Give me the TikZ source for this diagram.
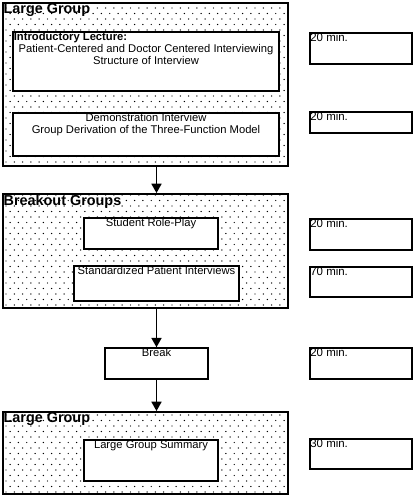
\documentclass[tikz,border=0pt]{standalone}
\usepackage{fontspec}
\setmainfont{Liberation Sans}
\usetikzlibrary{arrows.meta,fit}

\tikzset{
  grpbox/.style={draw,line width=1.4pt,inner sep=0pt},
  actbox/.style={draw,fill=white,line width=1.1pt,inner sep=0pt},
  timebox/.style={draw,line width=1.1pt,inner sep=0pt},
  grptitle/.style={anchor=north west,inner sep=1pt,font=\fontsize{10.8}{12}\selectfont\bfseries},
  acttext/.style={anchor=north,inner sep=1pt,align=center,font=\fontsize{8.4}{8.9}\selectfont},
  timetext/.style={anchor=north west,inner sep=0.6pt,font=\fontsize{8.6}{8.9}\selectfont},
  flow/.style={-{Triangle[length=7pt,width=7.5pt]},line width=1.2pt}
}

\begin{document}
\begin{tikzpicture}[x=0.75pt,y=-0.75pt]
\useasboundingbox (0,0) rectangle (416,496);

% group frames
\node[grpbox,fit={(3,3) (288,166)}] (lg1) {};
\node[grpbox,fit={(3,194) (288,308)}] (bg) {};
\node[grpbox,fit={(3,412) (288,494)}] (lg2) {};

% dotted fill
\begin{scope}
\clip (lg1.south west) rectangle (lg1.north east)
      (bg.south west) rectangle (bg.north east)
      (lg2.south west) rectangle (lg2.north east);
\foreach \r in {0,...,90}
  \foreach \c in {0,...,35}
    \fill ({\c*8.3+mod(\r,2)*4.15+6},{\r*5.5+8}) circle (0.55pt);
\end{scope}

\node[grptitle] at (lg1.north west) {Large Group};
\node[grptitle] at (bg.north west) {Breakout Groups};
\node[grptitle] at (lg2.north west) {Large Group};

% activities
\node[actbox,fit={(13,32) (279,91)},
  label={[timetext,font=\fontsize{8.4}{8.9}\selectfont\bfseries,inner sep=1pt]north west:Introductory Lecture:},
  label={[acttext,yshift=-8.6pt]north:Patient-Centered and Doctor Centered Interviewing\\Structure of Interview}] (intro) {};
\node[actbox,fit={(13,113) (279,156)},
  label={[acttext]north:Demonstration Interview\\Group Derivation of the Three-Function Model}] (demo) {};
\node[actbox,fit={(84,218) (218,249)},
  label={[acttext]north:Student Role-Play}] (srp) {};
\node[actbox,fit={(74,266) (239,301)},
  label={[acttext]north:Standardized Patient Interviews}] (spi) {};
\node[actbox,fit={(105,348) (208,379)},
  label={[acttext]north:Break}] (brk) {};
\node[actbox,fit={(84,440) (218,481)},
  label={[acttext]north:Large Group Summary}] (sum) {};

% times
\node[timebox,fit={(310,33) (412,64)},label={[timetext]north west:20 min.}] (tintro) {};
\node[timebox,fit={(310,112) (412,133)},label={[timetext]north west:20 min.}] (tdemo) {};
\node[timebox,fit={(310,219) (412,250)},label={[timetext]north west:20 min.}] (tsrp) {};
\node[timebox,fit={(310,267) (412,297)},label={[timetext]north west:70 min.}] (tspi) {};
\node[timebox,fit={(310,348) (412,379)},label={[timetext]north west:20 min.}] (tbrk) {};
\node[timebox,fit={(310,439) (412,469)},label={[timetext]north west:30 min.}] (tsum) {};

% flow
\draw[flow] (lg1.south -| brk.north) -- (bg.north -| brk.north);
\draw[flow] (bg.south -| brk.north) -- (brk.north);
\draw[flow] (brk.south) -- (lg2.north -| brk.south);
\end{tikzpicture}
\end{document}
